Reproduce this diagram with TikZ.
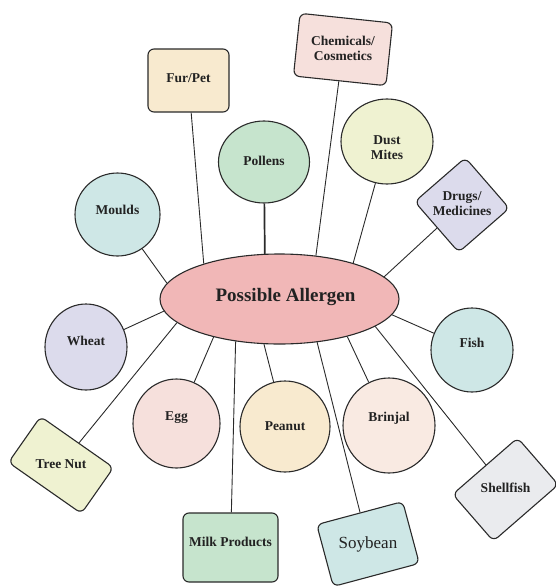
\documentclass[tikz,border=0pt]{standalone}
\usepackage{graphicx}
\usepackage{fontspec}
\setmainfont{Liberation Serif}
\usetikzlibrary{shapes.geometric}
\definecolor{linec}{HTML}{2A2A2A}
\definecolor{txtc}{HTML}{222222}
\definecolor{mainfill}{HTML}{F1B7B7}
\definecolor{cbeige}{HTML}{F8EACF}
\definecolor{cgreen}{HTML}{C6E4CD}
\definecolor{cpink}{HTML}{F6E0DC}
\definecolor{cyellow}{HTML}{EFF2D1}
\definecolor{clav}{HTML}{DCDBEC}
\definecolor{cteal}{HTML}{CEE7E6}
\definecolor{cpeach}{HTML}{F9EAE2}
\definecolor{cgrey}{HTML}{EAEBEE}
\newcommand{\lbltxt}[2]{\raisebox{#1}[0pt][0pt]{\begin{tabular}{@{}c@{}}#2\end{tabular}}}
\newcommand{\rottxt}[2]{\rotatebox{#1}{\begin{tabular}{@{}c@{}}#2\end{tabular}}}
\tikzset{
  base/.style={draw=linec, line width=1.1pt, inner sep=0pt, text=txtc,
    font=\fontsize{13.5}{15}\selectfont\bfseries},
  circ/.style={base, ellipse},
  rbox/.style={base, rectangle, rounded corners=6pt},
  conn/.style={draw=linec, line width=0.9pt},
}
\begin{document}
\begin{tikzpicture}[x=1pt,y=1pt]
\useasboundingbox (0,0) rectangle (555,-587);
% central node
\node[circ, fill=mainfill, minimum width=239pt, minimum height=90pt,
  font=\fontsize{19}{23}\selectfont\bfseries] (main) at (279.5,-299)
  {\lbltxt{-2.5pt}{\hspace*{12pt}Possible Allergen}};
% outer nodes
\node[rbox, fill=cbeige, minimum width=81pt, minimum height=63pt] (furpet) at (188.5,-80.5) {\lbltxt{-2.9pt}{Fur/Pet}};
\node[circ, fill=cgreen, minimum width=91pt, minimum height=82pt] (pollens) at (264,-162) {\lbltxt{-4.4pt}{Pollens}};
\node[circ, fill=cteal, minimum width=85pt, minimum height=83pt] (moulds) at (117.5,-214.5) {\lbltxt{-0.9pt}{Moulds}};
\node[rbox, fill=cpink, minimum width=93pt, minimum height=63pt, rotate=-6] (chem) at (343,-49.5) {\rottxt{6}{Chemicals/\\Cosmetics}};
\node[circ, fill=cyellow, minimum width=92pt, minimum height=85pt] (dust) at (387,-141.5) {\lbltxt{-10.9pt}{Dust\\Mites}};
\node[rbox, fill=clav, minimum width=67pt, minimum height=67pt, rotate=41] (drugs) at (462,-205) {\rottxt{-41}{Drugs/\\Medicines}};
\node[circ, fill=clav, minimum width=82pt, minimum height=86pt] (wheat) at (86,-347) {\lbltxt{0.6pt}{Wheat}};
\node[rbox, fill=cyellow, minimum width=89pt, minimum height=56pt, rotate=-35] (treenut) at (61,-465) {\rottxt{35}{Tree Nut}};
\node[circ, fill=cpink, minimum width=87pt, minimum height=89pt] (egg) at (176.5,-423.5) {\lbltxt{2.4pt}{Egg}};
\node[rbox, fill=cgreen, minimum width=95pt, minimum height=69pt] (milk) at (230.5,-547.5) {\lbltxt{0.1pt}{Milk Products}};
\node[circ, fill=cbeige, minimum width=90pt, minimum height=91pt] (peanut) at (285,-426.5) {\lbltxt{-4.4pt}{Peanut}};
\node[rbox, fill=cteal, minimum width=89pt, minimum height=64pt, rotate=15,
  font=\fontsize{17}{20}\selectfont\mdseries] (soybean) at (368,-544) {\rottxt{-15}{Soybean}};
\node[circ, fill=cpeach, minimum width=92pt, minimum height=95pt] (brinjal) at (389,-425.5) {\lbltxt{3.6pt}{Brinjal}};
\node[circ, fill=cteal, minimum width=82pt, minimum height=84pt] (fish) at (472,-350) {\lbltxt{1.6pt}{Fish}};
\node[rbox, fill=cgrey, minimum width=86pt, minimum height=62pt, rotate=41] (shellfish) at (505.5,-489.5) {\rottxt{-41}{Shellfish}};
% connectors
\draw[conn] (main.172.5) -- (moulds);
\draw[conn] (main.155.9) -- (furpet);
\draw[conn, line width=1.7pt] (main.108.8) -- (pollens);
\draw[conn] (main.50.9) -- (chem);
\draw[conn] (main.26.6) -- (dust);
\draw[conn] (main.12.6) -- (drugs);
\draw[conn] (main.-8) -- (fish);
\draw[conn] (main.-16.4) -- (shellfish);
\draw[conn] (main.-29.5) -- (brinjal);
\draw[conn] (main.-49.8) -- (soybean);
\draw[conn] (main.-109.6) -- (peanut);
\draw[conn] (main.-136.3) -- (milk);
\draw[conn] (main.-150.8) -- (egg);
\draw[conn] (main.-167) -- (treenut);
\draw[conn] (main.-174) -- (wheat);
\end{tikzpicture}
\end{document}
